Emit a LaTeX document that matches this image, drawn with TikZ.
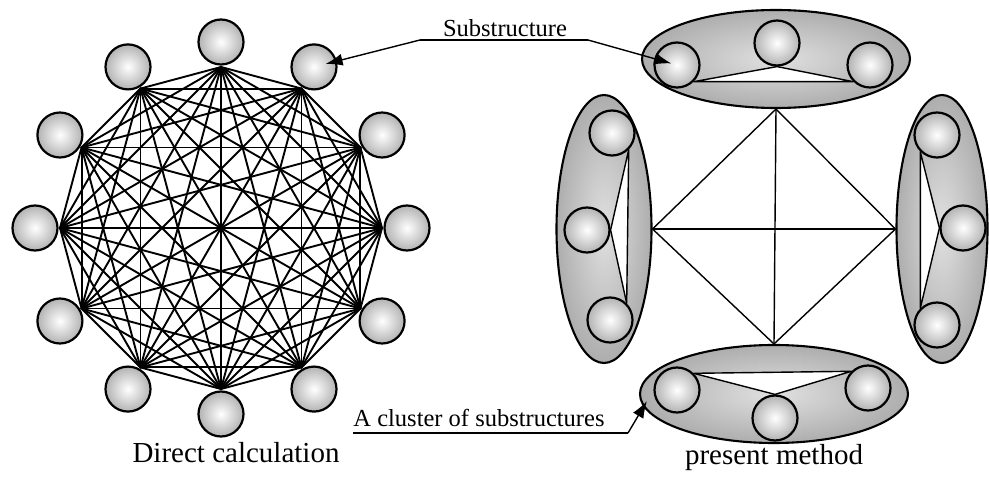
\documentclass[tikz,border=0pt]{standalone}
\usepackage{fontspec}
\setmainfont{Liberation Serif}
\usetikzlibrary{positioning,arrows.meta,calc,shapes.geometric,backgrounds}

\begin{document}
\begin{tikzpicture}[
  x=1pt, y=1pt,
  edge/.style={draw=black, line width=1.9pt, line cap=round},
  link/.style={draw=black, line width=1.4pt},
  ball/.style={circle, draw=black, line width=2.2pt, minimum size=45pt, inner sep=0pt,
               inner color=white, outer color=black!30},
  clus/.style={ellipse, draw=black, line width=2.1pt, inner sep=0pt,
               inner color=black!12, outer color=black!32},
  hclus/.style={clus, minimum width=268pt, minimum height=98pt},
  vclus/.style={clus, minimum width=95pt, minimum height=268pt},
  tri/.style={link, fill=white, line join=round},
  lbl/.style={font=\fontsize{24.5}{28}\selectfont, anchor=base, inner sep=0pt},
  captext/.style={font=\fontsize{29}{33}\selectfont, anchor=base, inner sep=0pt},
  lead/.style={draw=black, line width=1.4pt},
  ptr/.style={lead, -{Latex[length=17pt,width=12pt]}},
]
\useasboundingbox (0,0) rectangle (989,477);

\coordinate (dc) at (221,249);
\foreach \i in {0,...,11}
  \coordinate (v\i) at ($(dc)+(\i*30:161)$);
\foreach \i in {0,...,10} {
  \pgfmathtruncatemacro{\k}{\i+1}
  \foreach \j in {\k,...,11}
    \draw[edge] (v\i) -- (v\j);
}
\foreach \i in {0,...,11}
  \node[ball] (b\i) at ($(dc)+(\i*30:186)$) {};

\node[ball] (tL) at (677,412) {};
\node[ball] (tM) at (777,434) {};
\node[ball] (tR) at (870,412) {};
\node[ball] (wT) at (612,344) {};
\node[ball] (wM) at (587,247) {};
\node[ball] (wB) at (610,157) {};
\node[ball] (eT) at (937,342) {};
\node[ball] (eM) at (963,249) {};
\node[ball] (eB) at (937,152) {};
\node[ball] (sL) at (677,87) {};
\node[ball] (sM) at (775,59) {};
\node[ball] (sR) at (868,89) {};

\begin{scope}[on background layer]
  \node[hclus] (topc) at (776,418) {};
  \node[hclus] (botc) at (774,83) {};
  \node[vclus] (lefc) at (604,248) {};
  \node[vclus, minimum width=91pt] (rigc) at (942,248) {};
  \draw[tri] (tL.south east) -- (tM.south) -- (tR.south west) -- cycle;
  \draw[tri] (sL.north east) -- (sM.north) -- (sR.north west) -- cycle;
  \draw[tri] (wT.south east) -- (wM.east) -- (wB.north east) -- cycle;
  \draw[tri] (eT.south west) -- (eM.west) -- (eB.north west) -- cycle;
\end{scope}

\draw[link] (topc.south) -- (rigc.west) -- (botc.north) -- (lefc.east) -- cycle;
\draw[link] (topc.south) -- (botc.north);
\draw[link] (lefc.east) -- (rigc.west);

\node[lbl] (sub) at (505,440) {Substructure};
\coordinate (subA) at (420,437);
\coordinate (subB) at (588,437);
\draw[lead] (subA) -- (subB);
\draw[ptr, shorten >=12pt] (subA) -- (b2.center);
\draw[ptr, shorten >=6pt] (subB) -- (tL.center);

\node[lbl] (clu) at (479,50) {A cluster of substructures};
\coordinate (cluA) at (353,44);
\coordinate (cluB) at (628,44);
\draw[lead] (cluA) -- (cluB);
\draw[ptr] (cluB) -- ([xshift=8pt,yshift=-7pt]botc.west);

\node[captext] (dcap) at (236,14) {Direct calculation};
\node[captext] (pcap) at (774,12) {present method};

\end{tikzpicture}
\end{document}
